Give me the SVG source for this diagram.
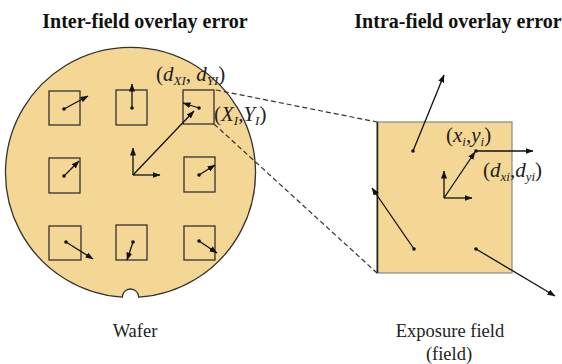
<svg xmlns="http://www.w3.org/2000/svg" width="562" height="364" viewBox="0 0 562 364">
<defs>
<marker id="ah" viewBox="0 0 8 6" refX="7.5" refY="3" markerWidth="8" markerHeight="6" markerUnits="userSpaceOnUse" orient="auto">
<path d="M0,0 L8,3 L0,6 Z" fill="#111"/>
</marker>
<style>
.title{font-family:"Liberation Serif",serif;font-weight:bold;font-size:20px;fill:#111}
.cap{font-family:"Liberation Serif",serif;font-size:18.5px;fill:#222}
.math{font-family:"Liberation Serif",serif;font-size:21px;fill:#222}
.it{font-style:italic}
.sub{font-style:italic;font-size:13px}
.sq{fill:none;stroke:#333;stroke-width:1.3}
.arr{stroke:#111;stroke-width:1.3;fill:none;marker-end:url(#ah)}
.dot{fill:#111}
.dash{stroke:#333;stroke-width:1.2;stroke-dasharray:5,3;fill:none}
</style>
</defs>
<rect width="562" height="364" fill="#fff"/>

<text class="title" x="145" y="28" text-anchor="middle">Inter-field overlay error</text>
<text class="title" x="458" y="28" text-anchor="middle">Intra-field overlay error</text>

<g id="wafer">
<path d="M122.3,297.2 A125,125 0 1 1 138.7,297.2 A8,8 0 0 0 122.3,297.2 Z" fill="#f4d794" stroke="#333" stroke-width="1.3"/>
<text class="cap" x="135" y="337" text-anchor="middle">Wafer</text>
</g>

<g id="field-squares">
<rect class="sq" x="49" y="91" width="31" height="34"/>
<rect class="sq" x="116" y="90" width="31" height="35"/>
<rect class="sq" x="183" y="90" width="31" height="34"/>
<rect class="sq" x="49" y="158" width="31" height="35"/>
<rect class="sq" x="184" y="157" width="31" height="35"/>
<rect class="sq" x="49" y="226" width="32" height="34"/>
<rect class="sq" x="116" y="225" width="31" height="35"/>
<rect class="sq" x="184" y="226" width="31" height="34"/>
</g>

<g id="exposure-field">
<rect x="377" y="122" width="135" height="151" fill="#f4d794" stroke="#888" stroke-width="1.2"/>
<line x1="377.5" y1="122" x2="377.5" y2="273" stroke="#222" stroke-width="1.5"/>
<text class="cap" x="450" y="337" text-anchor="middle">Exposure field</text>
<text class="cap" x="449" y="360" text-anchor="middle">(field)</text>
</g>

<g id="labels">
<text class="math" x="156" y="81">(<tspan class="it">d</tspan><tspan class="sub" dy="4">XI</tspan><tspan dy="-4">, </tspan><tspan class="it">d</tspan><tspan class="sub" dy="4">YI</tspan><tspan dy="-4">)</tspan></text>
<text class="math" x="214" y="121">(<tspan class="it">X</tspan><tspan class="sub" dy="4">I</tspan><tspan dy="-4">,</tspan><tspan class="it">Y</tspan><tspan class="sub" dy="4">I</tspan><tspan dy="-4">)</tspan></text>
<text class="math" x="446" y="142">(<tspan class="it">x</tspan><tspan class="sub" dy="4">i</tspan><tspan dy="-4">,</tspan><tspan class="it">y</tspan><tspan class="sub" dy="4">i</tspan><tspan dy="-4">)</tspan></text>
<text class="math" x="483" y="177">(<tspan class="it">d</tspan><tspan class="sub" dy="4">xi</tspan><tspan dy="-4">,</tspan><tspan class="it">d</tspan><tspan class="sub" dy="4">yi</tspan><tspan dy="-4">)</tspan></text>
</g>

<g id="connectors">
<line class="dash" x1="216" y1="90" x2="377" y2="122"/>
<line class="dash" x1="214" y1="124" x2="377" y2="273"/>

<line class="arr" x1="64" y1="109" x2="88" y2="96"/>
<line class="arr" x1="132" y1="108" x2="132" y2="84"/>
<line class="arr" x1="199" y1="108" x2="183" y2="103"/>
<line class="arr" x1="133" y1="175" x2="194" y2="111"/>
<line class="arr" x1="133" y1="175" x2="133" y2="148"/>
<line class="arr" x1="133" y1="175" x2="160" y2="175"/>
<line class="arr" x1="64" y1="176" x2="79" y2="161"/>
<line class="arr" x1="199" y1="175" x2="215" y2="165"/>
<line class="arr" x1="66" y1="242" x2="93" y2="259"/>
<line class="arr" x1="133" y1="242" x2="127" y2="260"/>
<line class="arr" x1="199" y1="241" x2="217" y2="253"/>

<line class="arr" x1="413" y1="151" x2="444" y2="75"/>
<line class="arr" x1="476" y1="151" x2="533" y2="151"/>
<line class="arr" x1="444" y1="198" x2="475" y2="152"/>
<line class="arr" x1="444" y1="198" x2="444" y2="171"/>
<line class="arr" x1="444" y1="198" x2="472" y2="198"/>
<line class="arr" x1="414" y1="249" x2="372" y2="188"/>
<line class="arr" x1="476" y1="249" x2="555" y2="296"/>

<circle class="dot" cx="64" cy="109" r="1.8"/>
<circle class="dot" cx="132" cy="108" r="1.8"/>
<circle class="dot" cx="199" cy="108" r="1.8"/>
<circle class="dot" cx="64" cy="176" r="1.8"/>
<circle class="dot" cx="199" cy="175" r="1.8"/>
<circle class="dot" cx="66" cy="242" r="1.8"/>
<circle class="dot" cx="133" cy="242" r="1.8"/>
<circle class="dot" cx="199" cy="241" r="1.8"/>
<circle class="dot" cx="413" cy="151" r="1.8"/>
<circle class="dot" cx="476" cy="151" r="1.8"/>
<circle class="dot" cx="414" cy="249" r="1.8"/>
<circle class="dot" cx="476" cy="249" r="1.8"/>
</g>
</svg>
